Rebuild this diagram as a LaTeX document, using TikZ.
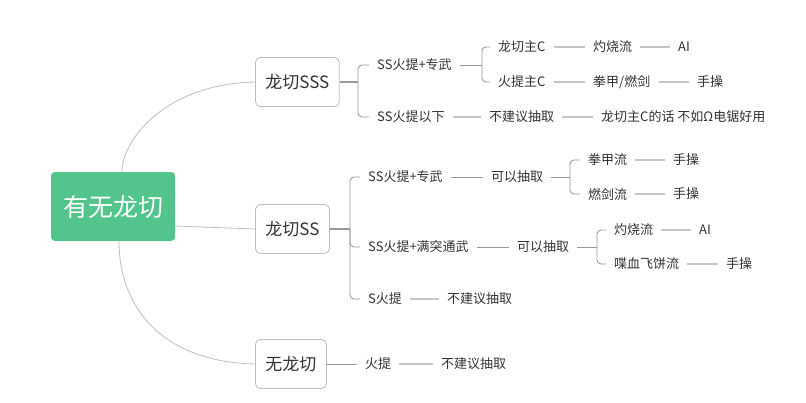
\documentclass[tikz,border=0pt]{standalone}
\usepackage{fontspec}
\setmainfont{Noto Sans CJK SC}
\definecolor{rootgreen}{HTML}{52C48C}
\definecolor{boxgray}{HTML}{BDBDBD}
\definecolor{curvegray}{HTML}{BEBEBE}
\definecolor{darkline}{HTML}{9A9A9A}
\definecolor{lightline}{HTML}{C6C6C6}
\definecolor{txtgray}{HTML}{333333}
\begin{document}
\begin{tikzpicture}[x=1pt,y=-1pt,
  rootbox/.style={fill=rootgreen,rounded corners=4pt,text=white,font=\fontsize{25}{25}\selectfont,minimum width=124pt,minimum height=69pt,inner sep=0pt},
  lvlbox/.style={draw=boxgray,line width=0.8pt,rounded corners=5pt,fill=white,text=txtgray,font=\fontsize{17}{17}\selectfont,minimum height=49pt,inner xsep=10pt,anchor=west},
  txt/.style={font=\fontsize{13}{13}\selectfont,text=txtgray,inner xsep=8pt,inner ysep=3pt,anchor=west},
  curve/.style={draw=curvegray,line width=0.8pt},
  trunk/.style={draw=darkline,line width=1.7pt},
  brk/.style={draw=darkline,line width=0.9pt,rounded corners=4pt},
  dlink/.style={draw=darkline,line width=0.9pt},
  llink/.style={draw=lightline,line width=1.8pt}]
\useasboundingbox (0,0) rectangle (806,402);
% root and level 1
\node[rootbox] (root) at (113,206.5) {有无龙切};
\node[lvlbox] (sss) at (255,82) {龙切SSS};
\node[lvlbox] (ss) at (255,229) {龙切SS};
\node[lvlbox] (no) at (255,364) {无龙切};
\draw[curve] ([xshift=9pt]root.north) .. controls (122,140) and (165,84) .. (sss.west);
\draw[curve] ([yshift=-19.5pt]root.east) .. controls (215,228) .. (ss.west);
\draw[curve] ([xshift=6pt]root.south) .. controls (119,310) and (165,362) .. (no.west);
% SSS group
\node[txt] (a1) at (369,65) {SS火提+专武};
\node[txt] (a2) at (369,117) {SS火提以下};
\node[txt] (a11) at (490,47) {龙切主C};
\node[txt] (a12) at (490,82) {火提主C};
\node[txt] (a111) at (585,47) {灼烧流};
\node[txt] (a1111) at (670,47) {AI};
\node[txt] (a121) at (585,82) {拳甲/燃剑};
\node[txt] (a1211) at (689,82) {手操};
\node[txt] (a21) at (481,117) {不建议抽取};
\node[txt] (a211) at (593,117) {龙切主C的话 不如Ω电锯好用};
\coordinate (b1) at (358,82);
\coordinate (b11) at (482,65);
\draw[trunk] (sss.east) -- (b1);
\draw[brk] (b1) |- (a1.west);
\draw[brk] (b1) |- (a2.west);
\draw[dlink] (a1.east) -- (b11);
\draw[brk] (b11) |- (a11.west);
\draw[brk] (b11) |- (a12.west);
\draw[llink] (a11) -- (a111);
\draw[llink] (a111) -- (a1111);
\draw[llink] (a12) -- (a121);
\draw[llink] (a121) -- (a1211);
\draw[llink] (a2) -- (a21);
\draw[llink] (a21) -- (a211);
% SS group
\node[txt] (c1) at (360,177) {SS火提+专武};
\node[txt] (c2) at (360,247) {SS火提+满突通武};
\node[txt] (c3) at (360,299) {S火提};
\node[txt] (c11) at (483,177) {可以抽取};
\node[txt] (c111) at (580,160) {拳甲流};
\node[txt] (c1111) at (665,160) {手操};
\node[txt] (c112) at (580,194) {燃剑流};
\node[txt] (c1121) at (665,194) {手操};
\node[txt] (c21) at (509,247) {可以抽取};
\node[txt] (c211) at (606,230) {灼烧流};
\node[txt] (c2111) at (691,230) {AI};
\node[txt] (c212) at (606,264) {喋血飞饼流};
\node[txt] (c2121) at (718,264) {手操};
\node[txt] (c31) at (439,299) {不建议抽取};
\coordinate (b2) at (350,229);
\coordinate (b21) at (570,177);
\coordinate (b22) at (597,247);
\draw[trunk] (ss.east) -- (b2);
\draw[brk] (b2) |- (c1.west);
\draw[brk] (b2) |- (c2.west);
\draw[brk] (b2) |- (c3.west);
\draw[dlink] (c1) -- (c11);
\draw[dlink] (c11.east) -- (b21);
\draw[brk] (b21) |- (c111.west);
\draw[brk] (b21) |- (c112.west);
\draw[llink] (c111) -- (c1111);
\draw[llink] (c112) -- (c1121);
\draw[dlink] (c2) -- (c21);
\draw[dlink] (c21.east) -- (b22);
\draw[brk] (b22) |- (c211.west);
\draw[brk] (b22) |- (c212.west);
\draw[llink] (c211) -- (c2111);
\draw[llink] (c212) -- (c2121);
\draw[llink] (c3) -- (c31);
% no group
\node[txt] (e1) at (357,364) {火提};
\node[txt] (e11) at (433,364) {不建议抽取};
\draw[dlink] (no.east) -- (e1);
\draw[llink] (e1) -- (e11);
\end{tikzpicture}
\end{document}
